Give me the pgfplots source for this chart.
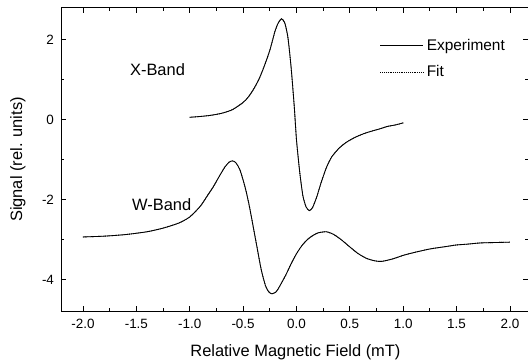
\documentclass[border=0pt]{standalone}
\usepackage{fontspec}
\setmainfont{Liberation Sans}
\usepackage{pgfplots}
\pgfplotsset{compat=1.18}
\usepackage{pgfplotstable}
\usetikzlibrary{calc}

\pgfplotstableread{
x y
-1.00 0.06
-0.90 0.08
-0.80 0.11
-0.70 0.16
-0.60 0.25
-0.50 0.43
-0.45 0.57
-0.40 0.77
-0.35 1.02
-0.30 1.35
-0.25 1.73
-0.20 2.22
-0.17 2.42
-0.14 2.52
-0.11 2.42
-0.08 2.05
-0.05 1.30
-0.02 0.30
0.00 -0.50
0.03 -1.30
0.06 -1.90
0.09 -2.18
0.12 -2.27
0.15 -2.20
0.19 -1.93
0.23 -1.58
0.28 -1.20
0.33 -0.93
0.40 -0.71
0.47 -0.56
0.55 -0.44
0.63 -0.35
0.70 -0.29
0.78 -0.23
0.85 -0.17
0.93 -0.13
1.00 -0.08
}\xband

\pgfplotstableread{
x y
-2.00 -2.93
-1.80 -2.91
-1.60 -2.87
-1.40 -2.80
-1.25 -2.71
-1.10 -2.58
-1.00 -2.43
-0.90 -2.16
-0.83 -1.88
-0.78 -1.68
-0.72 -1.40
-0.67 -1.18
-0.63 -1.06
-0.60 -1.03
-0.57 -1.07
-0.53 -1.25
-0.48 -1.70
-0.44 -2.18
-0.40 -2.75
-0.37 -3.18
-0.33 -3.75
-0.29 -4.15
-0.26 -4.30
-0.23 -4.35
-0.19 -4.30
-0.155 -4.15
-0.10 -3.88
-0.05 -3.60
0.00 -3.35
0.05 -3.15
0.10 -3.00
0.15 -2.90
0.20 -2.83
0.28 -2.80
0.35 -2.87
0.42 -3.00
0.50 -3.18
0.58 -3.35
0.66 -3.47
0.74 -3.53
0.80 -3.54
0.90 -3.48
1.00 -3.39
1.10 -3.32
1.25 -3.23
1.40 -3.17
1.50 -3.13
1.60 -3.11
1.72 -3.08
1.85 -3.07
2.00 -3.06
}\wband

\begin{document}
\begin{tikzpicture}
\begin{axis}[
  scale only axis,
  width=467bp, height=303bp,
  xmin=-2.206, xmax=2.169,
  ymin=-4.78, ymax=2.79,
  xtick={-2,-1.5,...,2},
  minor xtick={-1.75,-1.25,-0.75,-0.25,0.25,0.75,1.25,1.75},
  ytick={-4,-2,0,2},
  minor ytick={-3,-1,1},
  tick align=inside,
  major tick length=5bp,
  minor tick length=3bp,
  axis line style={line width=1pt},
  every tick/.style={line width=0.9pt, black},
  /pgf/number format/assume math mode=true,
  xticklabel style={/pgf/number format/.cd, fixed, fixed zerofill, precision=1, /tikz/.cd, yshift=-5bp},
  yticklabel style={/pgf/number format/.cd, fixed, precision=0, /tikz/.cd, xshift=-3.5bp},
  tick label style={font=\fontsize{13.5}{15}\selectfont},
  label style={font=\fontsize{16.5}{19}\selectfont},
  xlabel={Relative Magnetic Field (mT)},
  ylabel={Signal (rel. units)},
  xlabel style={at={(axis description cs:0.502,-0.1353)}, anchor=center},
  ylabel style={at={(axis description cs:-0.0921,0.5)}, anchor=center},
  legend style={draw=none, fill=none, at={(axis cs:0.78,2.07)}, anchor=north west,
    font=\fontsize{15.5}{17}\selectfont, row sep=10bp, inner sep=0pt,
    nodes={inner xsep=3bp}},
  legend cell align=left,
  legend image code/.code={\draw[#1] (0bp,0bp) -- (43bp,0bp);},
]
\addplot[black, line width=0.85pt, smooth, tension=0.4] table[x=x,y=y] {\xband};
\addlegendentry{Experiment}
\addplot[black, line width=0.85pt, densely dotted, smooth, tension=0.4] table[x=x,y=y] {\xband};
\addlegendentry{Fit}
\addplot[black, line width=0.85pt, smooth, tension=0.4, forget plot] table[x=x,y=y] {\wband};
\addplot[black, line width=0.85pt, densely dotted, smooth, tension=0.4, forget plot] table[x=x,y=y] {\wband};
\node[font=\fontsize{16.5}{19}\selectfont] at (axis cs:-1.302,1.26) {X-Band};
\node[font=\fontsize{16.5}{19}\selectfont] at (axis cs:-1.263,-2.12) {W-Band};
\end{axis}
\pgfresetboundingbox
\path[use as bounding box] ($(current axis.south west)+(-61bp,-51bp)$) rectangle ($(current axis.north east)+(0bp,8bp)$);
\end{tikzpicture}
\end{document}
